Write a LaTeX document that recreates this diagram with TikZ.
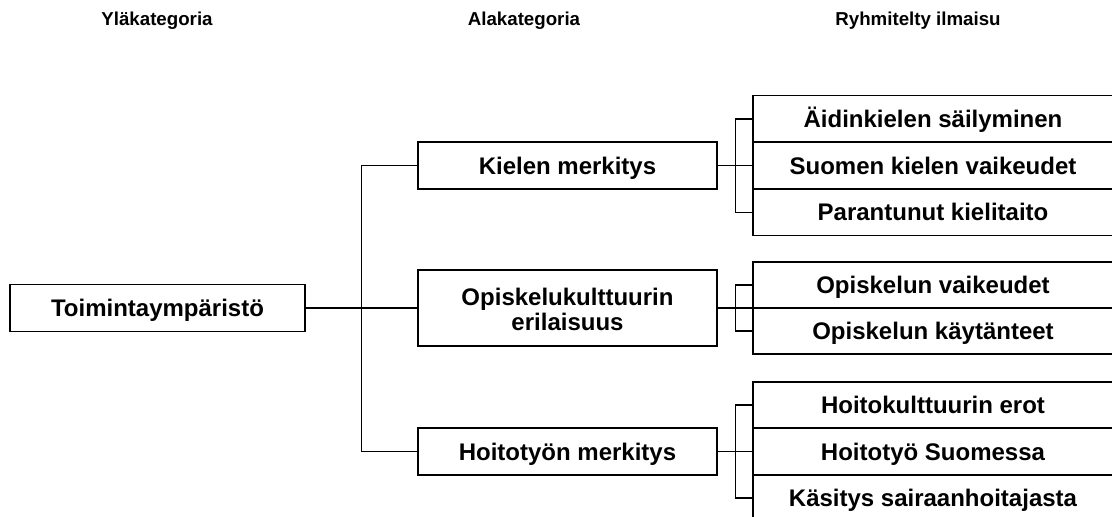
\documentclass[tikz,border=0pt]{standalone}
\usepackage{fontspec}
\setmainfont{Liberation Sans}
\begin{document}
\begin{tikzpicture}[x=1pt,y=-1pt,
  box/.style={draw, line width=1.6pt, rectangle, inner sep=0pt, align=center,
              text height=21pt, text depth=3.8pt,
              font=\fontsize{24}{24.5}\selectfont\bfseries},
  leftbox/.style={box, minimum width=295pt, minimum height=47pt},
  midbox/.style={box, minimum width=299pt, minimum height=46.5pt},
  rightbox/.style={box, minimum width=360pt, minimum height=46.5pt},
  head/.style={font=\fontsize{18.7}{21}\selectfont\bfseries, inner sep=0pt},
  link/.style={line width=1.4pt}]
\useasboundingbox (0,0) rectangle (1112,517);
\clip (0,0) rectangle (1112,517);

% column headings
\node[head] (h1) at (157,21) {Yläkategoria};
\node[head] (h2) at (524,21) {Alakategoria};
\node[head] (h3) at (918,21) {Ryhmitelty ilmaisu};

% bus lines
\coordinate (bus) at (361.5,0);
\coordinate (busA) at (735.5,0);

% main category
\node[leftbox] (top) at (157.5,308) {Toimintaympäristö};

% subcategories
\node[midbox] (kielen) at (567.5,165.5) {Kielen merkitys};
\node[midbox, minimum height=76pt, text height=48pt, text depth=4pt] (opis) at (567.5,308) {Opiskelukulttuurin\\erilaisuus};
\node[midbox] (hoito) at (567.5,451.5) {Hoitotyön merkitys};

% grouped expressions
\node[rightbox] (aid) at (933,118.8) {Äidinkielen säilyminen};
\node[rightbox] (suo) at (933,165.5) {Suomen kielen vaikeudet};
\node[rightbox] (par) at (933,212.2) {Parantunut kielitaito};

\node[rightbox] (ovaik) at (933,285) {Opiskelun vaikeudet};
\node[rightbox] (okayt) at (933,331) {Opiskelun käytänteet};

\node[rightbox] (hero) at (933,405) {Hoitokulttuurin erot};
\node[rightbox] (hsuo) at (933,451.5) {Hoitotyö Suomessa};
\node[rightbox] (kasi) at (933,498) {Käsitys sairaanhoitajasta};

% main tree
\draw[link] (kielen.west) -| (bus |- hoito.west) -- (hoito.west);
\draw[link] (top.east) -- (opis.west);

% language group
\draw[link] (aid.west) -| (busA |- par.west) -- (par.west);
\draw[link] (kielen.east) -- (suo.west);

% study group
\draw[link] (ovaik.west) -| (busA |- okayt.west) -- (okayt.west);
\draw[link] (opis.east) -- (opis.east -| ovaik.west);

% nursing group
\draw[link] (hero.west) -| (busA |- kasi.west) -- (kasi.west);
\draw[link] (hoito.east) -- (hsuo.west);
\end{tikzpicture}
\end{document}
